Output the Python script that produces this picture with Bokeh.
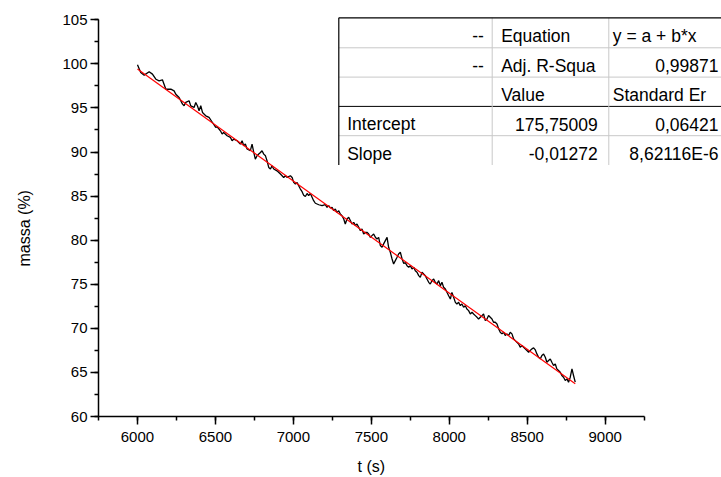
from bokeh.plotting import figure
from bokeh.models import Range1d, SingleIntervalTicker, FixedTicker, Title, LinearAxis
from bokeh.core.properties import value
from bokeh.embed import file_html
from bokeh.resources import INLINE

# ---------------- data ----------------
t_s = [6000, 6021, 6043, 6075, 6096, 6118, 6139, 6160, 6182, 6214, 6235, 6246, 6267, 6289, 6299,
       6310, 6331, 6342, 6363, 6374, 6385, 6395, 6406, 6417, 6438, 6459, 6481, 6502,
       6511, 6532, 6543, 6553, 6575, 6596, 6607, 6618, 6639, 6660, 6671, 6682, 6692, 6703, 6724,
       6735, 6746, 6756, 6767, 6778, 6789, 6799, 6810, 6821, 6831, 6842, 6853, 6863, 6874, 6895,
       6917, 6938, 6949, 6959, 6981, 6992, 7002, 7013, 7024, 7034,
       7045, 7056, 7066, 7077, 7088, 7098, 7109, 7130, 7141, 7163, 7184, 7205, 7216, 7227, 7237,
       7248, 7259, 7269, 7280, 7291, 7301, 7312, 7323, 7333, 7344, 7355, 7366, 7376, 7387, 7398,
       7408, 7419, 7430, 7440, 7451, 7462, 7472, 7483, 7494, 7504, 7515, 7526, 7536, 7547, 7558,
       7569, 7579, 7590, 7601, 7611, 7622, 7633, 7643, 7654, 7665, 7675, 7686, 7697, 7708, 7718,
       7729, 7740, 7750, 7761, 7772, 7782, 7793, 7804, 7814, 7825, 7836, 7846, 7857, 7868, 7878,
       7889, 7900, 7910, 7921, 7932, 7943, 7953, 7964, 7975, 7985, 7996, 8007, 8017, 8028, 8039,
       8049, 8060, 8071, 8081, 8092, 8103, 8113, 8124, 8135, 8146, 8156, 8167, 8178, 8188,
       8199, 8210, 8220, 8231, 8242, 8252, 8263, 8274, 8284, 8295, 8306, 8317, 8327, 8338, 8349,
       8359, 8370, 8381, 8391, 8402, 8413, 8423, 8434, 8445, 8455, 8466, 8477, 8487, 8498, 8509,
       8519, 8530, 8541, 8552, 8562, 8573, 8584, 8594, 8605, 8616, 8626, 8637, 8648, 8658, 8669,
       8680, 8690, 8701, 8712, 8722, 8733, 8744, 8755, 8765, 8776, 8787, 8797, 8808]

massa = [99.89, 99.03, 98.72, 99.10, 98.84, 98.26, 98.08, 98.19, 97.12, 97.13, 96.94, 96.56, 96.19, 95.43, 95.25,
         95.63, 95.82, 95.24, 95.06, 95.62, 95.23, 94.69, 95.25, 94.49, 94.11, 93.93, 93.35, 92.79,
         92.87, 92.41, 92.04, 92.22, 91.85, 91.66, 91.28, 91.47, 91.28, 90.90, 91.28, 90.71, 90.91, 90.34, 90.15,
         90.90, 89.95, 89.20, 89.58, 89.77, 89.95, 90.15, 89.76, 89.57, 89.01, 88.25, 88.07, 88.45, 88.07, 87.87,
         87.50, 87.12, 87.31, 87.13, 87.31, 87.12, 86.56, 86.37, 86.55, 86.18,
         85.80, 85.50, 85.10, 84.95, 85.30, 85.05, 85.30, 84.48, 84.19, 84.02, 83.91, 84.03, 83.73, 83.92, 83.65,
         83.73, 83.35, 83.54, 83.15, 83.35, 82.97, 82.78, 82.41, 81.84, 82.40, 82.60, 82.21, 81.84, 82.02, 81.66,
         81.84, 81.46, 81.08, 81.27, 80.71, 80.89, 80.89, 80.71, 80.32, 80.52, 80.70, 80.33, 80.14, 80.32, 79.39,
         79.19, 79.58, 79.95, 80.32, 79.19, 78.62, 77.87, 77.30, 77.68, 78.06, 78.43, 78.63, 77.90, 77.35, 77.45,
         77.11, 76.92, 77.11, 76.73, 76.92, 76.54, 76.36, 75.98, 75.78, 76.36, 76.16, 75.98, 75.60, 75.22, 75.03,
         75.40, 75.60, 75.22, 75.03, 75.41, 74.84, 75.22, 74.65, 74.47, 74.09, 73.70, 73.33, 74.08, 73.52, 72.95,
         72.76, 72.95, 72.57, 72.77, 72.39, 72.57, 72.20, 72.01, 71.63, 71.82, 71.63, 71.44, 71.25, 71.06,
         71.26, 71.44, 71.64, 70.88, 71.07, 71.45, 71.26, 71.07, 70.69, 70.70, 70.50, 69.94, 69.56, 69.37, 69.56,
         69.18, 69.37, 69.18, 69.55, 69.37, 68.80, 68.61, 68.42, 68.23, 67.86, 68.06, 67.86, 67.67, 67.48, 67.29,
         67.48, 67.67, 67.78, 67.55, 67.10, 66.72, 66.54, 66.91, 67.09, 66.72, 66.15, 66.35, 66.53, 66.16, 65.78,
         65.96, 65.40, 65.21, 65.03, 64.65, 64.45, 64.08, 64.27, 63.89, 64.46, 65.40, 64.65, 63.89]

# linear fit parameters (from the fit table)
intercept = 175.75009
slope = -0.01272

# fit table contents
table_rows = [
    ["--", "Equation", "y = a + b*x"],
    ["--", "Adj. R-Squa", "0,99871"],
    ["", "Value", "Standard Er"],
    ["Intercept", "175,75009", "0,06421"],
    ["Slope", "-0,01272", "8,62116E-6"],
]
table_align = [
    ["right", "left", "left"],
    ["right", "left", "right"],
    ["left", "left", "left"],
    ["left", "right", "right"],
    ["left", "right", "right"],
]

x_title = "t (s)"
y_title = "massa (%)"
x_bounds = (5750, 9250)
y_bounds = (60, 105)

# ---------------- layout (canvas px) ----------------
W, H = 721, 477
BL, BB, BT = 98, 61, 16          # frame left / bottom / top borders
FW, FH = W - BL, H - BB - BT     # frame size
SX = 0.1559                      # px per second
SY = 8.8156                      # px per % unit
X0, Y0 = x_bounds[0], y_bounds[0]
X1 = X0 + FW / SX
Y1 = Y0 + FH / SY
FRAME_BOTTOM = H - BB

def dx(px):
    return X0 + (px - BL) / SX

def dy(py):
    return Y0 + (FRAME_BOTTOM - py) / SY

FONT = "Liberation Sans"

p = figure(width=W, height=H, output_backend="svg", toolbar_location=None,
           x_range=Range1d(X0, X1), y_range=Range1d(Y0, Y1),
           min_border_left=BL, min_border_right=0, min_border_top=BT, min_border_bottom=BB)
p.grid.visible = False
p.outline_line_color = None
p.background_fill_color = "white"
p.border_fill_color = "white"

p.xaxis.ticker = SingleIntervalTicker(interval=500, num_minor_ticks=2)
p.yaxis.ticker = SingleIntervalTicker(interval=5, num_minor_ticks=2)
p.xaxis.bounds = x_bounds
p.yaxis.bounds = y_bounds
for ax in (p.xaxis, p.yaxis):
    ax.axis_line_color = "black"
    ax.axis_line_width = 1.5
    ax.major_tick_line_color = "black"
    ax.major_tick_line_width = 1.5
    ax.minor_tick_line_color = "black"
    ax.minor_tick_line_width = 1.5
    ax.major_tick_in = 0
    ax.major_tick_out = 8
    ax.minor_tick_in = 0
    ax.minor_tick_out = 4
    ax.major_label_text_font = FONT
    ax.major_label_text_font_size = "15px"
    ax.major_label_text_color = "black"
p.xaxis.major_label_standoff = 7
p.yaxis.major_label_standoff = 3


def spacer(size, at):
    # an axis with one white tick and no visible label, used only to reserve room before a title
    return LinearAxis(ticker=FixedTicker(ticks=[at], minor_ticks=[]),
                      axis_line_color="white", axis_line_alpha=0.0,
                      major_tick_out=size, major_tick_in=0, minor_tick_out=0, minor_tick_in=0,
                      major_tick_line_color="white", minor_tick_line_color="white",
                      major_label_overrides={at: ""}, major_label_text_font_size="1px",
                      major_label_standoff=0, axis_label_standoff=0)


# x axis title, centred under the drawn axis
p.add_layout(spacer(10, 9600), "below")
p.add_layout(Title(text=x_title, align="left", offset=259, text_font=FONT,
                   text_font_size="16px", text_font_style="normal", text_color="black",
                   standoff=2), "below")

# y axis title
p.add_layout(spacer(24, 104), "left")
p.add_layout(Title(text=y_title, align="left", offset=150, vertical_align="bottom",
                   text_font=FONT, text_font_size="16px", text_font_style="normal",
                   text_color="black", standoff=6), "left")

# data line and fit
p.line(t_s, massa, line_color="black", line_width=1.3)
fit_x = [t_s[0], t_s[-1]]
fit_y = [intercept + slope * x for x in fit_x]
p.line(fit_x, fit_y, line_color="red", line_width=1.2)

# fit table (canvas px geometry)
cols = [338.3, 491.7, 608.3, 721.0]
rows = [17.3, 47.3, 76.6, 105.9, 135.2, 164.5]
xr = dx(721)
hy = rows[1:5]
hcol = ["#c8c8c8", "#c8c8c8", "black", "#c8c8c8"]
p.segment(x0=[dx(cols[0])] * len(hy), y0=[dy(v) for v in hy],
          x1=[xr] * len(hy), y1=[dy(v) for v in hy], line_color=hcol, line_width=1)
p.segment(x0=[dx(cols[1]), dx(cols[2])], y0=[dy(rows[0])] * 2,
          x1=[dx(cols[1]), dx(cols[2])], y1=[dy(rows[-1])] * 2,
          line_color="#c8c8c8", line_width=1)
p.segment(x0=[dx(cols[0]), dx(cols[0])], y0=[dy(rows[0]), dy(rows[0])],
          x1=[xr, dx(cols[0])], y1=[dy(rows[0]), dy(rows[-1])],
          line_color="black", line_width=1.2)

pad_l = [8.4, 9.0, 4.0]
pad_r = [8.4, 11.0, 3.0]
tx, ty, tt, ta = [], [], [], []
for i, row in enumerate(table_rows):
    for j, txt in enumerate(row):
        if not txt:
            continue
        if table_align[i][j] == "left":
            px = cols[j] + pad_l[j]
        else:
            px = cols[j + 1] - pad_r[j]
        tx.append(dx(px))
        ty.append(dy(rows[i] + 18))
        tt.append(txt)
        ta.append(table_align[i][j])
p.text(x=tx, y=ty, text=tt, text_align=ta, text_baseline="alphabetic",
       text_font=value(FONT), text_font_size="17.5px", text_color="black")

open("out.html", "w").write(file_html(p, INLINE))
